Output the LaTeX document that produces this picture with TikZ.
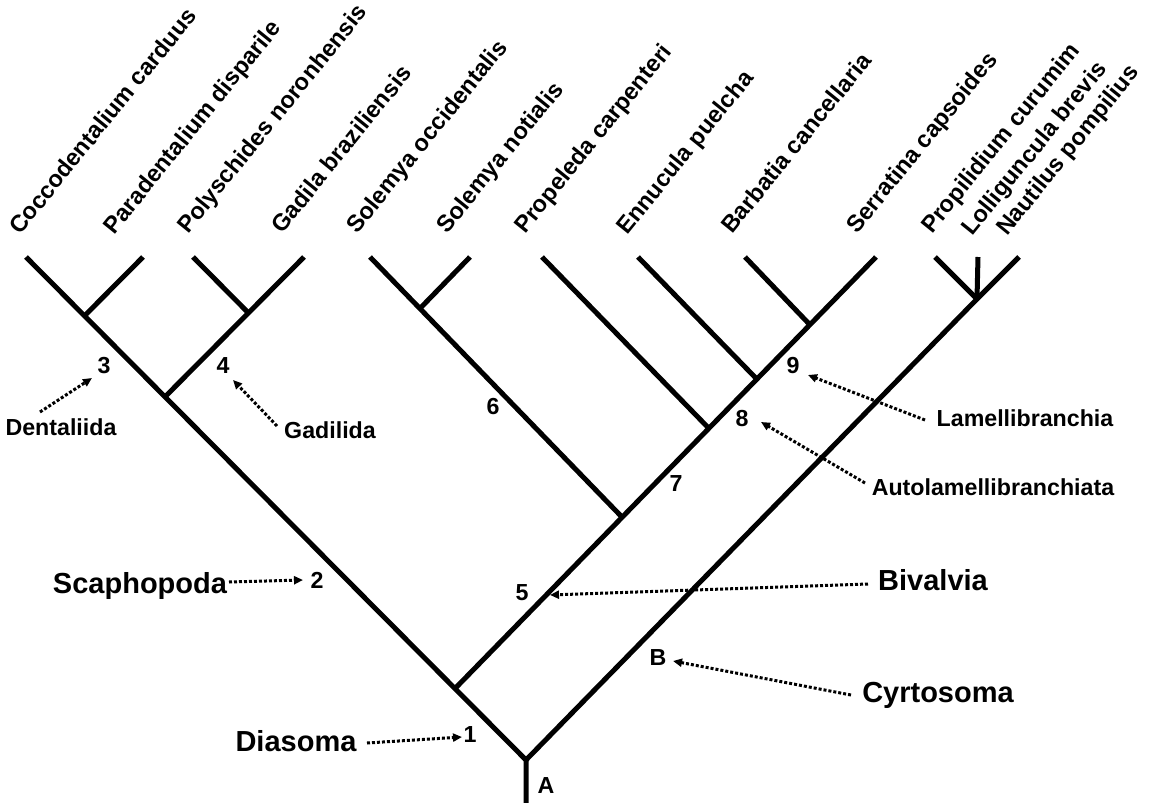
\documentclass[tikz,border=0pt]{standalone}
\usepackage{fontspec}
\setmainfont{Liberation Sans}
\usetikzlibrary{calc,arrows.meta}
\tikzset{
  branch/.style={line width=2.5pt,draw=black,line cap=butt,line join=miter},
  tiplab/.style={font=\bfseries\fontsize{11.8}{14}\selectfont,
    anchor=base west,rotate=51,inner sep=0pt},
  lab/.style={font=\bfseries\fontsize{11.6}{14}\selectfont,anchor=base,
    inner sep=1pt},
  biglab/.style={font=\bfseries\fontsize{14.5}{17}\selectfont,anchor=base,
    inner sep=1pt},
  pointer/.style={-{Triangle[length=4.5pt,width=4pt]},line width=1.5pt,
    dash pattern=on 1.5pt off 1pt}
}

\begin{document}
\begin{tikzpicture}[x=.5pt,y=-.5pt]
  \useasboundingbox (0,0) rectangle (1153,803);

  % Tips and the root.
  \foreach \n/\x in {1/26,2/143,3/193,4/304,5/370,6/470,7/542,8/638,
                     9/745,10/876,11/935,12/978,13/1019}{
    \coordinate (t\n) at (\x,257);
  }
  \coordinate (root) at (526,803);
  \coordinate (r) at (526,760);
  \coordinate (jCeph) at (977,299);

  % Branch points on the main lines.
  \coordinate (jBiv) at ($(r)!.142!(t1)$);
  \coordinate (jScaph) at ($(r)!.722!(t1)$);
  \coordinate (j12) at ($(r)!.883!(t1)$);
  \coordinate (j34) at ($(t4)!.4!(jScaph)$);
  \coordinate (jSol) at ($(jBiv)!.397!(t10)$);
  \coordinate (jProp) at ($(jBiv)!.603!(t10)$);
  \coordinate (jEnn) at ($(jBiv)!.717!(t10)$);
  \coordinate (jBarb) at ($(jBiv)!.843!(t10)$);
  \coordinate (j56) at ($(t5)!.198!(jSol)$);

  % The tree.
  \draw[branch] (root)--(r)--(t1);
  \draw[branch] (j12)--(t2);
  \draw[branch] (jScaph)--(t4);
  \draw[branch] (j34)--(t3);
  \draw[branch] (jBiv)--(t10);
  \draw[branch] (jSol)--(t5);
  \draw[branch] (j56)--(t6);
  \draw[branch] (jProp)--(t7);
  \draw[branch] (jEnn)--(t8);
  \draw[branch] (jBarb)--(t9);
  \draw[branch] (r)--(jCeph)--(t13);
  \draw[branch] (jCeph)--(t11);
  \draw[branch] (jCeph)--(t12);

  % Species names.
  \foreach \x/\y/\name/\txt in {
    20/236/cocco/Coccodentalium carduus,
    114/236/parad/Paradentalium disparile,
    188/235/polys/Polyschides noronhensis,
    282/235/gadila/Gadila braziliensis,
    357/235/solocc/Solemya occidentalis,
    447/235/solnot/Solemya notialis,
    525/235/prop/Propeleda carpenteri,
    627/236/ennuc/Ennucula puelcha,
    732/235/barb/Barbatia cancellaria,
    857/235/serr/Serratina capsoides,
    932/235/propil/Propilidium curumim,
    972/237/lollig/Lolliguncula brevis,
    1007/237/naut/Nautilus pompilius}{
    \node[tiplab] (s\name) at (\x,\y) {\txt};
  }

  % Node numbers.
  \foreach \x/\y/\name/\txt in {
    470/742/n1/1,317/588/n2/2,104/373/n3/3,223/373/n4/4,522/600/n5/5,
    493/414/n6/6,676/491/n7/7,742/426/n8/8,793/373/n9/9,
    546/793/nA/A,658/665/nB/B}{
    \node[lab] (\name) at (\x,\y) {\txt};
  }

  % Clade names.
  \node[lab] (lDent) at (61,435) {Dentaliida};
  \node[lab] (lGad) at (330,438) {Gadilida};
  \node[lab] (lLam) at (1025,426) {Lamellibranchia};
  \node[lab] (lAuto) at (993,495) {Autolamellibranchiata};
  \node[biglab] (lScaph) at (140,593) {Scaphopoda};
  \node[biglab] (lBiv) at (933,590) {Bivalvia};
  \node[biglab] (lCyrt) at (938,702) {Cyrtosoma};
  \node[biglab] (lDia) at (296,751) {Diasoma};

  % Dotted pointers.
  \foreach \name/\xa/\ya/\xb/\yb in {
    dent/40/412/92/378, gad/277/426/233/380, lam/925/420/808/375,
    auto/865/483/761/422, biv/868/584/550/595, cyrt/851/695/673/661,
    dia/367/743/462/737, scaph/229/582/303/580}{
    \coordinate (\name Tail) at (\xa,\ya);
    \coordinate (\name Head) at (\xb,\yb);
    \draw[pointer] (\name Tail)--(\name Head);
  }
\end{tikzpicture}
\end{document}
